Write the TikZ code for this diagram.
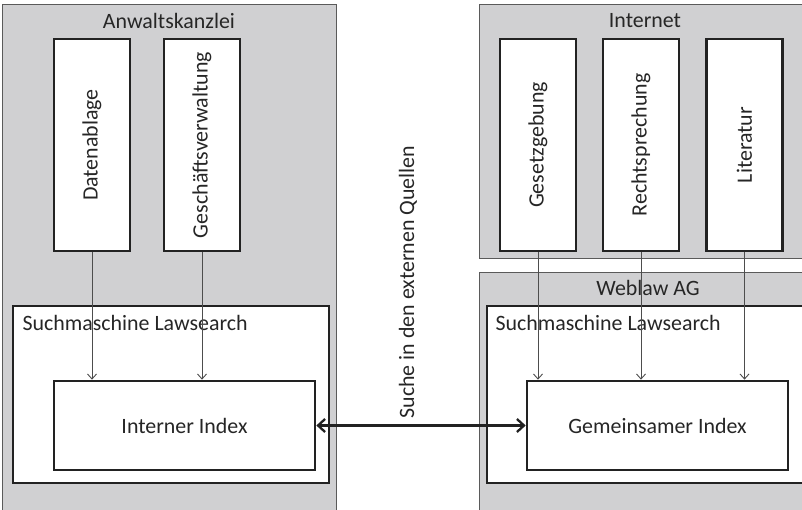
\documentclass[tikz,border=0pt]{standalone}
\usepackage{fontspec}
\setmainfont{Carlito}
\usepackage{graphicx}
\usetikzlibrary{arrows.meta, positioning}
\definecolor{panelc}{HTML}{D0D0D2}
\definecolor{edgec}{HTML}{5A5A5A}
\definecolor{boxc}{HTML}{222222}
\definecolor{feedc}{HTML}{4D4D4D}
\definecolor{txtc}{HTML}{262626}
\tikzset{
  panel/.style={rectangle, draw=edgec, fill=panelc, line width=0.9pt,
                inner sep=0pt},
  whitebox/.style={rectangle, draw=boxc, fill=white, line width=2.7pt,
                   inner sep=0pt},
  feed/.style={-{Straight Barb[length=5pt, width=9pt]}, feedc, line width=0.9pt},
  sync/.style={{Straight Barb[length=7pt, width=13pt]}-{Straight Barb[length=7pt, width=13pt]},
               boxc, line width=2.3pt},
}
\newcommand{\srcbox}[3]{%
  \node[whitebox, minimum width=76pt, minimum height=212pt] (#1) at #2
       {\rotatebox{90}{#3}};
}

\begin{document}
\begin{tikzpicture}[x=1pt, y=-1pt, text=txtc,
          font=\fontsize{21.9}{26}\selectfont]
        \clip (0,0) rectangle (802,510);
        % gray areas
        \node[panel, minimum width=334pt, minimum height=516pt] (kanzlei) at (169,262) {};
        \node[panel, minimum width=332pt, minimum height=254pt] (internet) at (645,131) {};
        \node[panel, minimum width=332pt, minimum height=248pt] (weblaw) at (645,396) {};
        \node[anchor=base] (tk) at (169,29) {Anwaltskanzlei};
        \node[anchor=base] (ti) at (645,28) {Internet};
        \node[anchor=base] (tw) at (648,295) {Weblaw AG};
        % search engines
        \node[whitebox, minimum width=316pt, minimum height=177pt] (se1) at (171,394.5) {};
        \node[whitebox, minimum width=316pt, minimum height=177pt] (se2) at (645,394.5) {};
        \node[anchor=base west] (sl1) at (19,330) {Suchmaschine Lawsearch};
        \node[anchor=base west] (sl2) at (492,330) {Suchmaschine Lawsearch};
        \node[whitebox, minimum width=261pt, minimum height=89pt] (ii) at (184.5,425.5) {Interner Index};
        \node[whitebox, minimum width=261pt, minimum height=89pt] (gi) at (657.5,425.5) {Gemeinsamer Index};
        % sources
        \srcbox{da}{(92,145)}{Datenablage}
        \srcbox{gv}{(202,145)}{Geschäftsverwaltung}
        \srcbox{gg}{(538,145)}{Gesetzgebung}
        \srcbox{rs}{(641,145)}{Rechtsprechung}
        \srcbox{lt}{(744.5,145)}{Literatur}
        \foreach \s in {da,gv} \draw[feed] (\s) -- (\s |- ii.north);
        \foreach \s in {gg,rs,lt} \draw[feed] (\s) -- (\s |- gi.north);
        \draw[sync] (ii) -- (gi);
        \node[rotate=90] (ext) at (408,282) {Suche in den externen Quellen};
      \end{tikzpicture}
\end{document}
